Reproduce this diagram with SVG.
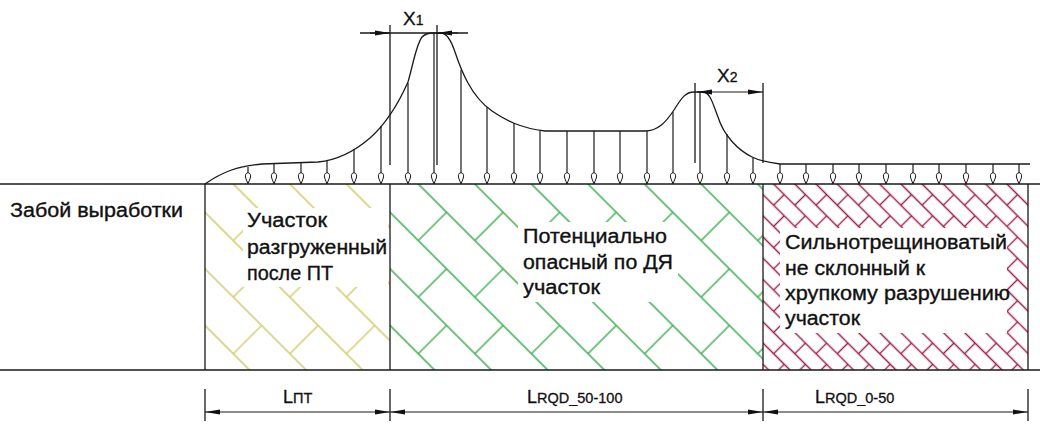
<svg xmlns="http://www.w3.org/2000/svg" width="1040" height="441" viewBox="0 0 1040 441">
<style>
.ln{stroke:#1a1a1a;stroke-width:1.3;fill:none}
.t{font-family:"Liberation Sans",Arial,sans-serif;font-size:20px;fill:#111;stroke:#111;stroke-width:0.35}
.d{font-family:"Liberation Sans",Arial,sans-serif;fill:#111;stroke:#111;stroke-width:0.3}
.load{stroke:#1a1a1a;stroke-width:1.2;fill:none;marker-end:url(#drop)}
.dim{stroke:#1a1a1a;stroke-width:1.2;fill:none;marker-start:url(#ah);marker-end:url(#ah)}
.dim1{stroke:#1a1a1a;stroke-width:1.2;fill:none;marker-end:url(#ah)}
</style>
<defs>
<marker id="drop" viewBox="-12 -4 13 8" refX="0" refY="0" markerWidth="13" markerHeight="8" markerUnits="userSpaceOnUse" orient="auto">
<path d="M0,0 L-6,-2.3 C-9,-3.3 -11.3,-2 -11.3,0 C-11.3,2 -9,3.3 -6,2.3 Z" fill="#fff" stroke="#1a1a1a" stroke-width="1"/>
</marker>
<marker id="ah" viewBox="-16 -3 17 6" refX="0" refY="0" markerWidth="17" markerHeight="6" markerUnits="userSpaceOnUse" orient="auto-start-reverse">
<path d="M0,0 L-15,-2.4 L-15,2.4 Z" fill="#111"/>
</marker>
<pattern id="hy" patternUnits="userSpaceOnUse" width="80" height="80" patternTransform="translate(205,184) rotate(45)">
<path d="M0,20H80 M0,60H80 M20,20V60 M60,60V80 M60,0V20" stroke="#d2cc6a" stroke-width="1.4" fill="none"/>
</pattern>
<pattern id="hg" patternUnits="userSpaceOnUse" width="80" height="80" patternTransform="translate(390,184) rotate(45)">
<path d="M0,20H80 M0,60H80 M20,20V60 M60,60V80 M60,0V20" stroke="#3fae52" stroke-width="1.4" fill="none"/>
</pattern>
<pattern id="hr" patternUnits="userSpaceOnUse" width="30" height="30" patternTransform="translate(763,184) rotate(45)">
<path d="M0,7.5H30 M0,22.5H30 M7.5,7.5V22.5 M22.5,22.5V30 M22.5,0V7.5" stroke="#9a2248" stroke-width="1.4" fill="none"/>
</pattern>
</defs>
<rect width="1040" height="441" fill="#fff"/>

<g id="zone-unloaded">
<rect x="205" y="184" width="185" height="186" fill="url(#hy)"/>
<rect x="243" y="208" width="145" height="79" fill="#fff"/>
<text class="t" x="247" y="227" textLength="80" lengthAdjust="spacingAndGlyphs">Участок</text>
<text class="t" x="247" y="254" textLength="140" lengthAdjust="spacingAndGlyphs">разгруженный</text>
<text class="t" x="247" y="280" textLength="86" lengthAdjust="spacingAndGlyphs">после ПТ</text>
</g>

<g id="zone-hazard">
<rect x="390" y="184" width="373" height="186" fill="url(#hg)"/>
<rect x="518" y="222" width="160" height="80" fill="#fff"/>
<text class="t" x="523" y="243" textLength="144" lengthAdjust="spacingAndGlyphs">Потенциально</text>
<text class="t" x="523" y="269" textLength="150" lengthAdjust="spacingAndGlyphs">опасный по ДЯ</text>
<text class="t" x="523" y="294" textLength="77" lengthAdjust="spacingAndGlyphs">участок</text>
</g>

<g id="zone-fractured">
<rect x="763" y="184" width="265" height="186" fill="url(#hr)"/>
<rect x="780" y="228" width="227" height="105" fill="#fff"/>
<text class="t" x="785" y="249" textLength="222" lengthAdjust="spacingAndGlyphs">Сильнотрещиноватый</text>
<text class="t" x="785" y="275" textLength="140" lengthAdjust="spacingAndGlyphs">не склонный к</text>
<text class="t" x="785" y="300" textLength="225" lengthAdjust="spacingAndGlyphs">хрупкому разрушению</text>
<text class="t" x="785" y="325" textLength="75" lengthAdjust="spacingAndGlyphs">участок</text>
</g>

<g id="face-label">
<text class="t" x="10" y="217" textLength="173" lengthAdjust="spacingAndGlyphs">Забой выработки</text>
</g>

<g id="frame">
<path class="ln" d="M0,184H1040 M0,370H1040 M205,184V370 M390,184V370 M763,184V370 M1028,184V370"/>
</g>

<g id="load-curve">
<path class="ln" d="M205,184 C222,172 238,166 262,164 L318,162 C340,160 356,150 370,138 C388,122 400,100 408,82 C413,65 416,45 422,37 C425,34 429,33 433,33 L441,33 C447,33 451,40 455,52 C459,64 463,74 468,83 C475,96 482,104 492,111 C505,120 520,128 545,131 L645,131 C658,131 666,122 674,110 C682,97 686,92 694,92 L703,92 C710,92 713,104 718,117 C724,136 738,150 752,157 C758,160 765,162 780,164 L1030,164"/>
</g>

<g id="connectors">
<line class="load" x1="248" y1="167" x2="248" y2="184"/>
<line class="load" x1="274" y1="164" x2="274" y2="184"/>
<line class="load" x1="301" y1="163" x2="301" y2="184"/>
<line class="load" x1="327" y1="161" x2="327" y2="184"/>
<line class="load" x1="354" y1="149" x2="354" y2="184"/>
<line class="load" x1="381" y1="126" x2="381" y2="184"/>
<line class="load" x1="408" y1="83" x2="408" y2="184"/>
<line class="load" x1="434" y1="33" x2="434" y2="184"/>
<line class="load" x1="461" y1="70" x2="461" y2="184"/>
<line class="load" x1="487" y1="107" x2="487" y2="184"/>
<line class="load" x1="514" y1="123" x2="514" y2="184"/>
<line class="load" x1="540" y1="131" x2="540" y2="184"/>
<line class="load" x1="567" y1="131" x2="567" y2="184"/>
<line class="load" x1="594" y1="131" x2="594" y2="184"/>
<line class="load" x1="620" y1="131" x2="620" y2="184"/>
<line class="load" x1="647" y1="131" x2="647" y2="184"/>
<line class="load" x1="673" y1="112" x2="673" y2="184"/>
<line class="load" x1="700" y1="92" x2="700" y2="184"/>
<line class="load" x1="727" y1="134" x2="727" y2="184"/>
<line class="load" x1="753" y1="158" x2="753" y2="184"/>
<line class="load" x1="780" y1="164" x2="780" y2="184"/>
<line class="load" x1="806" y1="164" x2="806" y2="184"/>
<line class="load" x1="833" y1="164" x2="833" y2="184"/>
<line class="load" x1="859" y1="164" x2="859" y2="184"/>
<line class="load" x1="886" y1="164" x2="886" y2="184"/>
<line class="load" x1="913" y1="164" x2="913" y2="184"/>
<line class="load" x1="939" y1="164" x2="939" y2="184"/>
<line class="load" x1="966" y1="164" x2="966" y2="184"/>
<line class="load" x1="993" y1="164" x2="993" y2="184"/>
<line class="load" x1="1019" y1="164" x2="1019" y2="184"/>

<path class="ln" d="M390,25V165 M437,25V165 M695,83V163 M763,83V163"/>
<path class="ln" d="M360,33H468"/>
<line class="dim1" x1="370" y1="33" x2="390" y2="33"/>
<line class="dim1" x1="458" y1="33" x2="437" y2="33"/>
<line class="dim" x1="697" y1="92" x2="763" y2="92"/>

<path class="ln" d="M205,389V421 M390,389V421 M763,389V421 M1028,389V421"/>
<line class="dim" x1="205" y1="412" x2="390" y2="412"/>
<line class="dim" x1="390" y1="412" x2="763" y2="412"/>
<line class="dim" x1="763" y1="412" x2="1028" y2="412"/>
</g>

<g id="labels">
<text class="d" x="403" y="25" font-size="19">X<tspan font-size="14">1</tspan></text>
<text class="d" x="717" y="82" font-size="19">X<tspan font-size="14">2</tspan></text>
<text class="d" x="283" y="403" font-size="18">L<tspan font-size="14.5">ПТ</tspan></text>
<text class="d" x="527" y="403" font-size="18">L<tspan font-size="14.5">RQD_50-100</tspan></text>
<text class="d" x="815" y="403" font-size="18">L<tspan font-size="14.5">RQD_0-50</tspan></text>
</g>
</svg>
